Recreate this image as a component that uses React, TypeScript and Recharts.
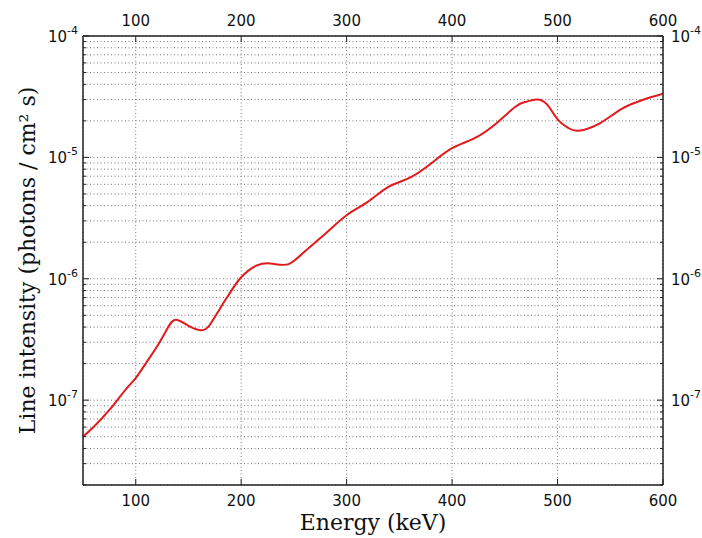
import {
  LineChart,
  Line,
  XAxis,
  YAxis,
  CartesianGrid,
  Label,
} from 'recharts';

const energy = [
  50, 60, 75, 90, 100, 110, 120, 130, 138, 150, 162, 170, 180, 190, 200, 215,
  230, 245, 260, 280, 300, 320, 340, 360, 380, 400, 420, 440, 460, 470, 480,
  490, 500, 510, 520, 540, 560, 580, 600,
];
const intensity = [
  5.0e-8, 6.0e-8, 8.3e-8, 1.21e-7, 1.52e-7, 2.04e-7, 2.75e-7, 3.89e-7, 4.6e-7,
  4.1e-7, 3.77e-7, 4.14e-7, 5.7e-7, 7.8e-7, 1.03e-6, 1.29e-6, 1.33e-6, 1.32e-6,
  1.67e-6, 2.36e-6, 3.34e-6, 4.3e-6, 5.73e-6, 6.8e-6, 8.9e-6, 1.19e-5, 1.42e-5,
  1.85e-5, 2.61e-5, 2.87e-5, 3.0e-5, 2.73e-5, 2.06e-5, 1.75e-5, 1.66e-5,
  1.91e-5, 2.49e-5, 2.96e-5, 3.34e-5,
];

const xTicks = [100, 200, 300, 400, 500, 600];
const decades = [-8, -7, -6, -5];
const mantissas = [1, 2, 3, 4, 5, 6, 7, 8, 9];

const yTicks: number[] = [];
decades.forEach((d) =>
  mantissas.forEach((m) => {
    const v = m * Math.pow(10, d);
    if (v >= 2e-8) yTicks.push(v);
  })
);
yTicks.push(1e-4);

const data = energy.map((e, i) => ({ energy: e, value: intensity[i] }));

const tickFont = '"DejaVu Sans", sans-serif';
const labelFont = '"DejaVu Serif", serif';
const frame = '#222';

const isMajor = (v: number) => {
  const l = Math.log10(v);
  return Math.abs(l - Math.round(l)) < 1e-6;
};

const XTick = ({ x, y, payload, side }: any) => {
  const top = side === 'top';
  return (
    <g>
      <line x1={x} x2={x} y1={y} y2={top ? y + 6 : y - 6} stroke={frame} strokeWidth={1} />
      <text
        x={x}
        y={top ? y - 10 : y + 21}
        textAnchor="middle"
        fontFamily={tickFont}
        fontSize={15}
        fill="#111"
      >
        {payload.value}
      </text>
    </g>
  );
};

const YTick = ({ x, y, payload, side }: any) => {
  const right = side === 'right';
  const major = isMajor(payload.value);
  const len = major ? 6 : 3;
  const exp = Math.round(Math.log10(payload.value));
  return (
    <g>
      <line x1={x} x2={right ? x - len : x + len} y1={y} y2={y} stroke={frame} strokeWidth={1} />
      {major && (
        <text
          x={right ? x + 8 : x - 5}
          y={y + 6}
          textAnchor={right ? 'start' : 'end'}
          fontFamily={tickFont}
          fontSize={15}
          fill="#111"
        >
          <tspan>10</tspan>
          <tspan dy={-8} fontSize={11}>
            {exp}
          </tspan>
        </text>
      )}
    </g>
  );
};

const App = () => {
  return (
    <div style={{ position: 'absolute', left: 0, top: 0, background: '#fff' }}>
      <LineChart
        width={702}
        height={538}
        data={data}
        margin={{ top: 6, right: 0, bottom: 23, left: 23 }}
      >
        <CartesianGrid
          xAxisId="bottom"
          yAxisId="left"
          stroke="#777"
          strokeDasharray="1 2.5"
        />
        <XAxis
          xAxisId="bottom"
          dataKey="energy"
          type="number"
          domain={[50, 600]}
          ticks={xTicks}
          orientation="bottom"
          height={30}
          tickSize={0}
          tickMargin={0}
          tickLine={false}
          axisLine={{ stroke: frame, strokeWidth: 1.5 }}
          tick={(p: any) => <XTick {...p} side="bottom" />}
          allowDataOverflow
        >
          <Label
            content={({ viewBox }: any) => (
              <text
                x={viewBox.x + viewBox.width / 2}
                y={viewBox.y + 45}
                textAnchor="middle"
                fontFamily={labelFont}
                fontSize={22}
                fill="#111"
              >
                Energy (keV)
              </text>
            )}
          />
        </XAxis>
        <XAxis
          xAxisId="top"
          dataKey="energy"
          type="number"
          domain={[50, 600]}
          ticks={xTicks}
          orientation="top"
          height={30}
          tickSize={0}
          tickMargin={0}
          tickLine={false}
          axisLine={{ stroke: frame, strokeWidth: 1.5 }}
          tick={(p: any) => <XTick {...p} side="top" />}
          allowDataOverflow
        />
        <YAxis
          yAxisId="left"
          orientation="left"
          type="number"
          scale="log"
          domain={[2e-8, 1e-4]}
          ticks={yTicks}
          width={60}
          tickSize={0}
          tickMargin={0}
          tickLine={false}
          axisLine={{ stroke: frame, strokeWidth: 1.5 }}
          tick={(p: any) => <YTick {...p} side="left" />}
          interval={0}
          allowDataOverflow
        >
          <Label
            content={({ viewBox }: any) => {
              const cx = 27;
              const cy = viewBox.y + viewBox.height / 2;
              return (
                <text
                  x={cx}
                  y={cy}
                  transform={`rotate(-90 ${cx} ${cy})`}
                  textAnchor="middle"
                  dominantBaseline="central"
                  fontFamily={labelFont}
                  fontSize={22}
                  fill="#111"
                >
                  Line intensity (photons / cm² s)
                </text>
              );
            }}
          />
        </YAxis>
        <YAxis
          yAxisId="right"
          orientation="right"
          type="number"
          scale="log"
          domain={[2e-8, 1e-4]}
          ticks={yTicks}
          width={39}
          tickSize={0}
          tickMargin={0}
          tickLine={false}
          axisLine={{ stroke: frame, strokeWidth: 1.5 }}
          tick={(p: any) => <YTick {...p} side="right" />}
          interval={0}
          allowDataOverflow
        />
        {/* smooth spline through the sampled spectrum */}
        <Line
          xAxisId="bottom"
          yAxisId="left"
          type="natural"
          dataKey="value"
          stroke="#e3191c"
          strokeWidth={2}
          dot={false}
          isAnimationActive={false}
        />
      </LineChart>
    </div>
  );
};

export default App;
